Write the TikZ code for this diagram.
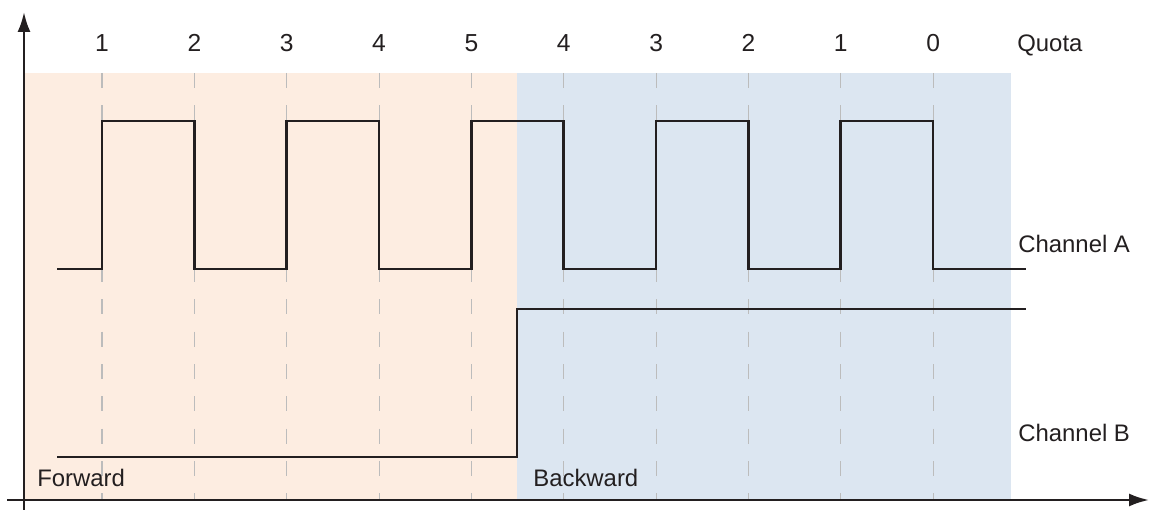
\documentclass[tikz,border=0pt]{standalone}
\usepackage{fontspec}
\setmainfont{Liberation Sans}
\usetikzlibrary{arrows.meta,positioning}
\definecolor{fwdfill}{RGB}{253,237,225}
\definecolor{bwdfill}{RGB}{220,230,241}
\definecolor{gridgray}{RGB}{188,188,188}
\definecolor{inkdark}{RGB}{35,31,32}
\tikzset{
  axisline/.style={-{Latex[length=4mm,width=2.6mm]}, draw=inkdark, line width=1.4pt},
  sigline/.style={draw=inkdark, line width=1.5pt},
  gridline/.style={draw=gridgray, line width=0.6pt, dash pattern=on 8.5pt off 9.9pt},
  quotanum/.style={anchor=base, inner sep=0pt, font=\fontsize{14}{16}\selectfont, text=inkdark},
  chlabel/.style={anchor=base west, inner sep=0pt, font=\fontsize{13.6}{16}\selectfont, text=inkdark},
}

\begin{document}
\begin{tikzpicture}
  \useasboundingbox (0,0) rectangle (22.98,10.2);

  % direction areas
  \fill[fwdfill] (0.48,0.2) rectangle (10.34,8.74);
  \fill[bwdfill] (10.34,0.2) rectangle (20.22,8.74);

  % quota ticks
  \draw[gridline] (2.04,8.74)  -- (2.04,0.2);
  \draw[gridline] (3.887,8.74) -- (3.887,0.2);
  \draw[gridline] (5.734,8.74) -- (5.734,0.2);
  \draw[gridline] (7.581,8.74) -- (7.581,0.2);
  \draw[gridline] (9.428,8.74) -- (9.428,0.2);
  \draw[gridline] (11.275,8.74) -- (11.275,0.2);
  \draw[gridline] (13.122,8.74) -- (13.122,0.2);
  \draw[gridline] (14.969,8.74) -- (14.969,0.2);
  \draw[gridline] (16.816,8.74) -- (16.816,0.2);
  \draw[gridline] (18.663,8.74) -- (18.663,0.2);

  \node[quotanum] (q1)  at (2.04,9.16)   {1};
  \node[quotanum] (q2)  at (3.887,9.16)  {2};
  \node[quotanum] (q3)  at (5.734,9.16)  {3};
  \node[quotanum] (q4)  at (7.581,9.16)  {4};
  \node[quotanum] (q5)  at (9.428,9.16)  {5};
  \node[quotanum] (q6)  at (11.275,9.16) {4};
  \node[quotanum] (q7)  at (13.122,9.16) {3};
  \node[quotanum] (q8)  at (14.969,9.16) {2};
  \node[quotanum] (q9)  at (16.816,9.16) {1};
  \node[quotanum] (q10) at (18.663,9.16) {0};
  \node[chlabel]  (quota) at (20.34,9.16) {Quota};

  % channel A
  \draw[sigline] (1.14,4.82) -- (2.04,4.82) -- (2.04,7.78) -- (3.887,7.78) -- (3.887,4.82)
    -- (5.734,4.82) -- (5.734,7.78) -- (7.581,7.78) -- (7.581,4.82)
    -- (9.428,4.82) -- (9.428,7.78) -- (11.275,7.78) -- (11.275,4.82)
    -- (13.122,4.82) -- (13.122,7.78) -- (14.969,7.78) -- (14.969,4.82)
    -- (16.816,4.82) -- (16.816,7.78) -- (18.663,7.78) -- (18.663,4.82) -- (20.52,4.82);
  \node[chlabel] (chA) at (20.36,5.14) {Channel A};

  % channel B
  \draw[sigline] (1.14,1.06) -- (10.34,1.06) -- (10.34,4.02) -- (20.52,4.02);
  \node[chlabel] (chB) at (20.36,1.36) {Channel B};

  \node[chlabel] (fwd) at (0.74,0.46)  {Forward};
  \node[chlabel] (bwd) at (10.66,0.46) {Backward};

  % axes
  \coordinate (xstart) at (0.14,0.2);
  \coordinate (xend)   at (22.98,0.2);
  \coordinate (ystart) at (0.48,0);
  \coordinate (yend)   at (0.48,9.96);
  \draw[axisline] (xstart) -- (xend);
  \draw[axisline] (ystart) -- (yend);
\end{tikzpicture}
\end{document}
